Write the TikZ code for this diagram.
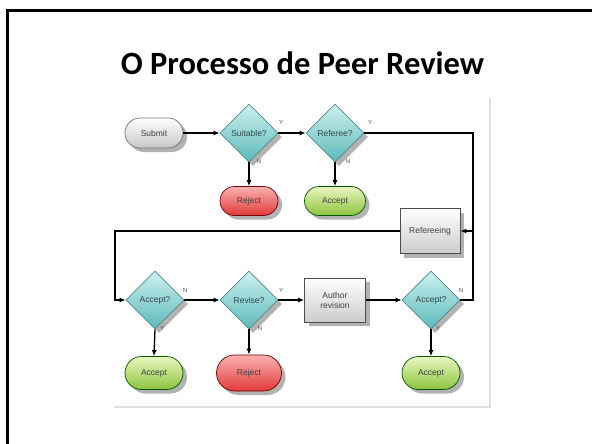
\documentclass[tikz,border=0pt]{standalone}
\usepackage{fontspec}
\setmainfont{Liberation Sans}
\newfontfamily\titlefont{Carlito}
\usetikzlibrary{shapes.geometric,shapes.misc,shadows,arrows.meta}
\definecolor{tealL}{HTML}{CFF0F0}
\definecolor{tealD}{HTML}{5CBABA}
\definecolor{tealB}{HTML}{4F8A8A}
\definecolor{txtc}{HTML}{2E4848}
\definecolor{redL}{HTML}{FBB0B0}
\definecolor{redD}{HTML}{E23A3A}
\definecolor{grnL}{HTML}{EAF6C0}
\definecolor{grnD}{HTML}{8DC43C}
\newcommand{\nodefont}{\fontsize{8.5}{10}\selectfont}
\tikzset{
  shad/.style={drop shadow={shadow xshift=4pt, shadow yshift=-4pt, fill=black!55, opacity=0.55}},
  dia/.style={diamond, draw=tealB, line width=0.7pt, top color=tealL, bottom color=tealD,
    minimum width=58pt, minimum height=58pt, inner sep=0pt, text=txtc, font=\nodefont, shad},
  oval/.style={rounded rectangle, line width=0.7pt, minimum width=58pt, minimum height=30pt,
    inner sep=0pt, text=black!75, font=\nodefont, shad},
  grayoval/.style={oval, draw=black!55, top color=white, bottom color=black!22},
  redoval/.style={oval, draw=red!45!black, top color=redL, bottom color=redD, minimum width=62pt, minimum height=33pt},
  grnoval/.style={oval, draw=green!35!black, top color=grnL, bottom color=grnD},
  boxn/.style={rectangle, draw=black!70, line width=0.7pt, top color=white, bottom color=black!20,
    minimum width=60pt, minimum height=45pt, inner sep=1pt, align=center, text=black!75, font=\nodefont, shad},
  arr/.style={-{Latex[length=6pt,width=5pt]}, line width=1.3pt},
  ln/.style={line width=1.3pt},
  lab/.style={font=\fontsize{6}{6}\selectfont, text=black!70, inner sep=0pt}
}
\begin{document}
\begin{tikzpicture}[x=1pt,y=-1pt]
\useasboundingbox (0,0) rectangle (592,444);
\clip (0,0) rectangle (592,444);
\fill[white] (0,0) rectangle (592,444);
\draw[line width=3pt] (7.5,10.5) rectangle (620,470);
\node[anchor=base, font=\titlefont\bfseries\fontsize{32.5}{36}\selectfont] (title) at (302.5,75) {O Processo de Peer Review};
% panel edge
\draw[black!12, line width=1.5pt] (490,98) -- (490,407) -- (114,407);
% nodes
\node[grayoval] (submit) at (154,133) {Submit};
\node[dia] (suit) at (249,133) {Suitable?};
\node[dia] (refq) at (335,133) {Referee?};
\node[redoval, minimum width=58pt, minimum height=29pt] (rej1) at (249,201) {Reject};
\node[grnoval, minimum width=61pt, minimum height=29pt] (acc1) at (335,201) {Accept};
\node[boxn] (refg) at (430,231) {Refereeing};
\node[dia] (accq1) at (155,300) {Accept?};
\node[dia] (rev) at (249,300) {Revise?};
\node[boxn, minimum width=61pt, minimum height=44pt] (auth) at (335,300) {Author\\revision};
\node[dia] (accq2) at (431,300) {Accept?};
\node[grnoval, minimum height=33pt] (acc2) at (154,373) {Accept};
\node[redoval, minimum width=65pt, minimum height=36pt] (rej2) at (249,373) {Reject};
\node[grnoval, minimum height=33pt] (acc3) at (431,373) {Accept};
% corner coordinates
\coordinate (cR) at (473,231);
\coordinate (cL) at (115,300);
% connectors
\draw[arr] (submit.east) -- (suit.west);
\draw[arr] (suit.east) -- (refq.west);
\draw[arr] (suit.south) -- (rej1.north);
\draw[arr] (refq.south) -- (acc1.north);
\draw[arr] (refq.east) -| (cR) -- (refg.east);
\draw[ln] (accq2.east) -| (cR);
\draw[arr] (refg.west) -| (cL) -- (accq1.west);
\draw[arr] (accq1.east) -- (rev.west);
\draw[arr] (rev.east) -- (auth.west);
\draw[arr] (auth.east) -- (accq2.west);
\draw[arr] (accq1.south) -- (acc2.north);
\draw[arr] (rev.south) -- (rej2.north);
\draw[arr] (accq2.south) -- (acc3.north);
% labels
\node[lab] (y1) at (281,122) {Y};
\node[lab] (n1) at (259,161) {N};
\node[lab] (y2) at (370,122) {Y};
\node[lab] (n2) at (348,161) {N};
\node[lab] (n3) at (185,290) {N};
\node[lab] (y3) at (162,328) {Y};
\node[lab] (y4) at (281,290) {Y};
\node[lab] (n4) at (260,328) {N};
\node[lab] (n5) at (461,290) {N};
\node[lab] (y5) at (438,328) {Y};
\end{tikzpicture}
\end{document}
